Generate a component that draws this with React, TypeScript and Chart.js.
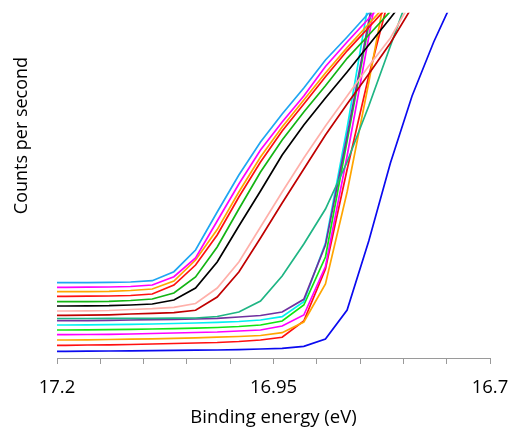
import React, { useEffect, useRef } from 'react';
import { Chart, registerables } from 'chart.js';

Chart.register(...registerables);

// Binding energy (eV) of each sample point
const energies = [17.215, 17.19, 17.165, 17.14, 17.115, 17.09, 17.065, 17.04, 17.015, 16.99, 16.965, 16.94, 16.915, 16.89, 16.865, 16.84, 16.815, 16.79, 16.765, 16.74, 16.715];

// Tick labels shown on the energy axis
const tickValues = [17.2, 16.95, 16.7];
const tickLabels = ['17.2', '16.95', '16.7'];

// Counts per second (arbitrary units) for each spectrum
const lightBlue = [75.3, 75.3, 75.4, 75.6, 76, 77.3, 86.3, 108, 146, 183, 216, 244, 270, 298, 321, 345, 368];
const magentaA = [70.7, 70.7, 70.8, 71, 71.5, 73, 81.3, 100, 137, 174, 208, 236, 262, 291.5, 316, 339.5, 363];
const orangeA = [66.3, 66.3, 66.4, 66.6, 67.5, 69, 77, 98, 128.4, 166, 201, 231, 258, 285, 310.4, 334, 358];
const redA = [61.7, 61.7, 61.8, 62, 62.5, 64, 73, 93, 123, 161, 196, 227, 254, 281.2, 307.2, 330.6, 354.2, 373];
const greenA = [56.3, 56.3, 56.4, 56.6, 57.5, 59, 65, 81, 111, 149, 186, 218, 246, 272.2, 299.7, 323, 346.7, 370];
const black = [52, 52, 52.1, 52.3, 53, 54, 58, 70, 96, 132, 167, 203, 233, 260, 286, 313, 340, 368];
const pink = [47, 47, 47.2, 47.5, 48.5, 49.3, 50.7, 54.5, 70, 96, 131, 166, 200, 232, 262, 292, 320, 358, 393];
const darkRed = [42.7, 42.7, 42.8, 43.2, 44, 44.7, 45.3, 47.7, 61, 86, 120, 155, 189, 223, 254, 284, 315, 351, 388];
const teal = [39.5, 39.5, 39.5, 39.6, 39.7, 39.7, 39.8, 40, 41.5, 46, 57, 82, 114, 149, 196, 252, 312, 372];
const purple = [37.3, 37.3, 37.4, 37.6, 38, 38.3, 38.7, 39, 39.7, 41, 42.5, 46, 58.7, 113, 222, 337, 453];
const cyan = [33, 33, 33.2, 33.4, 33.7, 34, 34.5, 35, 35.7, 36.5, 38, 41.3, 56.3, 115, 230, 357, 478];
const greenB = [28, 28, 28.2, 28.4, 28.7, 29, 29.4, 29.8, 30.5, 31.5, 33, 37, 53, 101, 217, 333, 448];
const magentaB = [23.3, 23.3, 23.5, 23.7, 24, 24.5, 25, 25.5, 26, 27, 28, 32, 43, 91.4, 202, 321, 440];
const orangeB = [18, 18, 18.2, 18.5, 18.8, 19.2, 19.7, 20.2, 20.8, 21.5, 22.5, 25.3, 36, 74, 166, 275.5, 392];
const redB = [12.7, 12.7, 13, 13.2, 13.5, 14, 14.5, 15, 15.5, 16.5, 18, 20.7, 37, 89, 188.5, 282, 366];
const blue = [6.7, 6.7, 6.8, 7, 7.2, 7.4, 7.6, 7.8, 8, 8.4, 9, 9.6, 11.7, 19, 48, 117, 195, 262, 316, 363, 408];

const series = [lightBlue, magentaA, orangeA, redA, greenA, black, pink, darkRed, teal, purple, cyan, greenB, magentaB, orangeB, redB, blue];
const seriesColors = ['#1FA6F2', '#FF00FF', '#FFA500', '#FF1010', '#14B414', '#000000', '#FFB0AA', '#C00000', '#1FB584', '#7030A0', '#00F0F0', '#10E610', '#FF00FF', '#FFA500', '#FF1010', '#0A0AF0'];

const yTitle = 'Counts per second';
const xTitle = 'Binding energy (eV)';

const FONT = "'Open Sans', 'DejaVu Sans', sans-serif";

export default function App() {
  const ref = useRef<HTMLCanvasElement | null>(null);

  useEffect(() => {
    if (!ref.current) return;
    const yTitlePlugin = {
      id: 'yTitlePlugin',
      afterDraw(chart: any) {
        const ctx = chart.ctx;
        ctx.save();
        ctx.translate(22, 135.5);
        ctx.rotate(-Math.PI / 2);
        ctx.font = `18px ${FONT}`;
        ctx.fillStyle = '#000';
        ctx.textAlign = 'center';
        ctx.textBaseline = 'middle';
        ctx.fillText(yTitle, 0, 0);
        ctx.restore();
      },
    };
    const chart = new Chart(ref.current, {
      type: 'line',
      data: {
        datasets: series.map((vals, i) => ({
          data: vals.map((v, k) => ({ x: energies[k], y: v })),
          borderColor: seriesColors[i],
          backgroundColor: seriesColors[i],
          borderWidth: 1.7,
          pointRadius: 0,
          tension: 0,
          fill: false,
        })),
      },
      options: {
        animation: false,
        responsive: true,
        maintainAspectRatio: false,
        layout: { padding: { left: 57, right: 20, top: 12.7, bottom: 0 } },
        plugins: { legend: { display: false }, tooltip: { enabled: false } },
        scales: {
          x: {
            type: 'linear',
            reverse: true,
            min: 16.7,
            max: 17.2,
            afterFit: (scale: any) => {
              scale.height = 69;
              scale.paddingLeft = 0;
              scale.paddingRight = 0;
            },
            ticks: {
              stepSize: 0.05,
              autoSkip: false,
              maxRotation: 0,
              padding: 13,
              color: '#000',
              font: { family: FONT, size: 18.5 },
              callback: (value: any) => {
                const idx = tickValues.findIndex((t) => Math.abs(t - Number(value)) < 1e-6);
                return idx >= 0 ? tickLabels[idx] : '';
              },
            },
            grid: { drawOnChartArea: false, drawTicks: true, tickLength: 6, color: '#9a9a9a', lineWidth: 1 },
            border: { display: true, color: '#9a9a9a', width: 1 },
            title: { display: true, text: xTitle, color: '#000', font: { family: FONT, size: 18.5, lineHeight: 1.0 }, padding: { top: 0, bottom: 0 } },
          },
          y: { display: false, min: 0, max: 345.3 },
        },
      },
      plugins: [yTitlePlugin],
    } as any);
    return () => chart.destroy();
  }, []);

  return (
    <div style={{ position: 'fixed', left: 0, top: 0, width: 510, height: 427, background: '#fff' }}>
      <canvas ref={ref} />
    </div>
  );
}
